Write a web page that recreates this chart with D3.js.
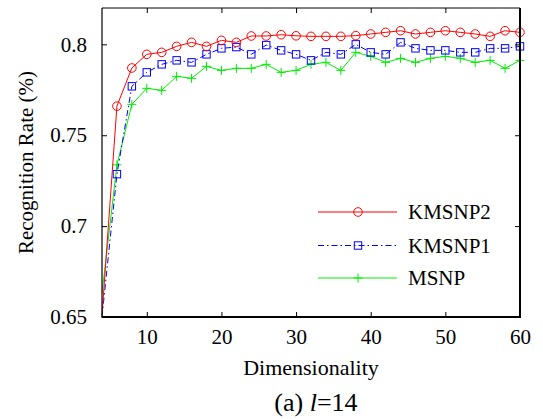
<!DOCTYPE html>
<html>
<head>
<meta charset="utf-8">
<script src="https://cdn.jsdelivr.net/npm/d3@7/dist/d3.min.js"></script>
</head>
<body style="margin:0; font-family: 'Liberation Serif', serif;">
<svg id="chart" width="543" height="419" font-family="Liberation Serif"></svg>
<script>
// Dimensionality values (even numbers 4..60)
const dims = [4, 6, 8, 10, 12, 14, 16, 18, 20, 22, 24, 26, 28, 30, 32, 34, 36, 38, 40, 42, 44, 46, 48, 50, 52, 54, 56, 58, 60];

// Recognition rates per method
const kmsnp2 = [0.651, 0.766, 0.787, 0.7945, 0.7956, 0.7989, 0.8011, 0.7989, 0.8022, 0.8011, 0.8046, 0.8046, 0.8053, 0.8047,
                0.8044, 0.8044, 0.8044, 0.8048, 0.8057, 0.8066, 0.8075, 0.8057, 0.8066, 0.8075, 0.8066, 0.8057, 0.8044, 0.8075, 0.8066];
const kmsnp1 = [0.649, 0.7286, 0.7769, 0.7846, 0.789, 0.7912, 0.7901, 0.7945, 0.7978, 0.7985, 0.7945, 0.7996, 0.7967, 0.7945,
                0.7912, 0.7956, 0.7945, 0.8000, 0.7956, 0.7945, 0.8011, 0.7978, 0.7967, 0.7967, 0.7956, 0.7956, 0.7978, 0.7978, 0.7989];
const msnp   = [0.6632, 0.7337, 0.767, 0.7758, 0.7747, 0.7824, 0.7813, 0.7879, 0.7857, 0.7868, 0.7868, 0.789, 0.7846, 0.7857,
                0.789, 0.7901, 0.7857, 0.7956, 0.7934, 0.7901, 0.7923, 0.7901, 0.7923, 0.7934, 0.7923, 0.7901, 0.7912, 0.7868, 0.7912];

const seriesNames = ["KMSNP2", "KMSNP1", "MSNP"];

// Axis ticks
const xTicks = [10, 20, 30, 40, 50, 60];
const yTicks = [0.65, 0.7, 0.75, 0.8];
const yTickLabels = ["0.65", "0.7", "0.75", "0.8"];

const FONT = '"Liberation Serif"';

const svg = d3.select("#chart");
svg.append("rect").attr("width", 543).attr("height", 419).attr("fill", "#fff");

const plot = { left: 102, right: 520, top: 8, bottom: 317 };

const x = d3.scaleLinear().domain([4, 60]).range([plot.left, plot.right]);
// Clamped so values just under the floor sit on the bottom axis
const y = d3.scaleLinear().domain([0.65, 0.82]).range([plot.bottom, plot.top]).clamp(true);

const styles = [
  { name: seriesNames[0], values: kmsnp2, color: "#ff0000", dash: null, marker: "circle" },
  { name: seriesNames[1], values: kmsnp1, color: "#0000ff", dash: "6,3,1.5,3", marker: "square" },
  { name: seriesNames[2], values: msnp,   color: "#00ee00", dash: null, marker: "plus" }
];

const line = d3.line().x((d, i) => x(dims[i])).y(d => y(d));

function drawMarker(g, type, cx, cy, color) {
  if (type === "circle") {
    g.append("circle").attr("cx", cx).attr("cy", cy).attr("r", 4.3)
      .attr("fill", "none").attr("stroke", color).attr("stroke-width", 1);
  } else if (type === "square") {
    g.append("rect").attr("x", cx - 3.7).attr("y", cy - 3.7).attr("width", 7.4).attr("height", 7.4)
      .attr("fill", "none").attr("stroke", color).attr("stroke-width", 1);
  } else {
    g.append("path").attr("d", `M${cx - 4.5},${cy}H${cx + 4.5}M${cx},${cy - 4.5}V${cy + 4.5}`)
      .attr("fill", "none").attr("stroke", color).attr("stroke-width", 1);
  }
}

const dataLayer = svg.append("g");

// Draw lower series first so the red curve sits on top
[2, 1, 0].forEach(k => {
  const s = styles[k];
  dataLayer.append("path")
    .datum(s.values)
    .attr("d", line)
    .attr("fill", "none")
    .attr("stroke", s.color)
    .attr("stroke-width", 1)
    .attr("stroke-dasharray", s.dash);
  const mg = dataLayer.append("g");
  s.values.forEach((v, i) => {
    if (dims[i] === 4) return;
    drawMarker(mg, s.marker, x(dims[i]), y(v), s.color);
  });
});

// Axes box with inward ticks on all four sides
const axisG = svg.append("g");
const tickLen = 5;

const xAxisBottom = d3.axisBottom(x).tickValues(xTicks).tickSizeInner(-tickLen).tickSizeOuter(0).tickPadding(12);
const gxb = axisG.append("g").attr("transform", `translate(0,${plot.bottom})`).call(xAxisBottom);
gxb.select(".domain").remove();

const xAxisTop = d3.axisTop(x).tickValues(xTicks).tickSizeInner(-tickLen).tickSizeOuter(0).tickFormat("");
const gxt = axisG.append("g").attr("transform", `translate(0,${plot.top})`).call(xAxisTop);
gxt.select(".domain").remove();

const yAxisLeft = d3.axisLeft(y).tickValues(yTicks).tickSizeInner(-tickLen).tickSizeOuter(0).tickPadding(15)
  .tickFormat((d, i) => yTickLabels[i]);
const gyl = axisG.append("g").attr("transform", `translate(${plot.left},0)`).call(yAxisLeft);
gyl.select(".domain").remove();

const yAxisRight = d3.axisRight(y).tickValues(yTicks).tickSizeInner(-tickLen).tickSizeOuter(0).tickFormat("");
const gyr = axisG.append("g").attr("transform", `translate(${plot.right},0)`).call(yAxisRight);
gyr.select(".domain").remove();

axisG.selectAll("g").attr("font-family", "Liberation Serif").attr("font-size", 21);
axisG.selectAll(".tick line").attr("stroke", "#000").attr("stroke-width", 1);

// Frame lines
axisG.append("line").attr("x1", plot.left).attr("x2", plot.right).attr("y1", plot.top).attr("y2", plot.top)
  .attr("stroke", "#000").attr("stroke-width", 1);
axisG.append("line").attr("x1", plot.left).attr("x2", plot.left).attr("y1", plot.top).attr("y2", plot.bottom)
  .attr("stroke", "#000").attr("stroke-width", 1.2);
axisG.append("line").attr("x1", plot.left - 0.5).attr("x2", plot.right + 1).attr("y1", plot.bottom).attr("y2", plot.bottom)
  .attr("stroke", "#000").attr("stroke-width", 2);
axisG.append("line").attr("x1", plot.right).attr("x2", plot.right).attr("y1", plot.top).attr("y2", plot.bottom)
  .attr("stroke", "#000").attr("stroke-width", 2);

// Axis titles
svg.append("text")
  .attr("x", (plot.left + plot.right) / 2).attr("y", 375)
  .attr("text-anchor", "middle").attr("font-size", 22)
  .text("Dimensionality");

svg.append("text")
  .attr("transform", `translate(33,${(plot.top + plot.bottom) / 2}) rotate(-90)`)
  .attr("text-anchor", "middle").attr("font-size", 21)
  .text("Recognition Rate (%)");

// Caption
const cap = svg.append("text")
  .attr("x", 316).attr("y", 411)
  .attr("text-anchor", "middle").attr("font-size", 26);
cap.append("tspan").text("(a) ");
cap.append("tspan").attr("font-style", "italic").text("l");
cap.append("tspan").text("=14");

// Legend
const legendRows = [212, 245.5, 278];
const leg = svg.append("g");
styles.forEach((s, i) => {
  const ly = legendRows[i];
  leg.append("line").attr("x1", 318).attr("x2", 397).attr("y1", ly).attr("y2", ly)
    .attr("stroke", s.color).attr("stroke-width", 1).attr("stroke-dasharray", s.dash);
  drawMarker(leg, s.marker, 358, ly, s.color);
  leg.append("text").attr("x", 408).attr("y", ly).attr("dy", "0.35em")
    .attr("font-size", 21).text(s.name);
});

// Every label uses the serif face
svg.selectAll("text").attr("font-family", "Liberation Serif").style("font-family", FONT).attr("fill", "#000");
</script>
</body>
</html>
